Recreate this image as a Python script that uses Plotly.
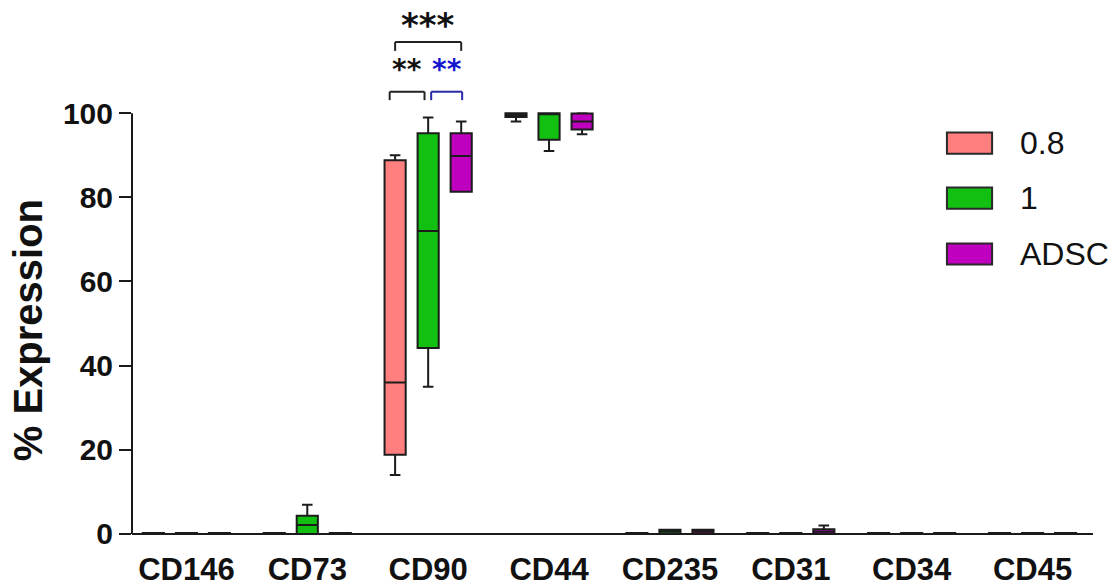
import plotly.graph_objects as go

categories = ["CD146", "CD73", "CD90", "CD44", "CD235", "CD31", "CD34", "CD45"]
groups = ["0.8", "1", "ADSC"]
colors = ["#FF7F7F", "#12C012", "#BF00BF"]

# five-number summaries per group (min, q1, median, q3, max)
g08_min = [0, 0, 14.0, 98.0, 0, 0, 0, 0]
g08_q1 = [0, 0, 18.8, 99.1, 0, 0, 0, 0]
g08_med = [0.1, 0.1, 36.0, 99.5, 0.1, 0.1, 0.1, 0.1]
g08_q3 = [0.2, 0.2, 88.8, 100.0, 0.2, 0.2, 0.2, 0.2]
g08_max = [0.2, 0.2, 90.0, 100.0, 0.2, 0.2, 0.2, 0.2]

g1_min = [0, 0, 35.0, 91.0, 0, 0, 0, 0]
g1_q1 = [0, 0, 44.2, 93.7, 0, 0, 0, 0]
g1_med = [0.1, 2.1, 72.0, 99.8, 0.5, 0.1, 0.1, 0.1]
g1_q3 = [0.2, 4.3, 95.2, 100.0, 1.0, 0.2, 0.2, 0.2]
g1_max = [0.2, 6.9, 99.0, 100.0, 1.0, 0.2, 0.2, 0.2]

adsc_min = [0, 0, 81.3, 95.0, 0, 0, 0, 0]
adsc_q1 = [0, 0, 81.3, 96.1, 0, 0, 0, 0]
adsc_med = [0.1, 0.1, 89.8, 98.0, 0.5, 0.5, 0.1, 0.1]
adsc_q3 = [0.2, 0.2, 95.2, 99.9, 1.0, 1.1, 0.2, 0.2]
adsc_max = [0.2, 0.2, 98.0, 100.0, 1.0, 2.0, 0.2, 0.2]

y_ticks = [0, 20, 40, 60, 80, 100]

stats = [
    (g08_min, g08_q1, g08_med, g08_q3, g08_max),
    (g1_min, g1_q1, g1_med, g1_q3, g1_max),
    (adsc_min, adsc_q1, adsc_med, adsc_q3, adsc_max),
]

positions = list(range(len(categories)))
BOXGAP = 0.18
BOXGROUPGAP = 0.36
slot = (1 - BOXGAP) / len(groups)

fig = go.Figure()
for name, col, (mn, q1, md, q3, mx) in zip(groups, colors, stats):
    fig.add_trace(go.Box(
        name=name, x=positions, lowerfence=mn, q1=q1, median=md, q3=q3, upperfence=mx,
        fillcolor=col, line=dict(color="#1c1c1c", width=2), whiskerwidth=0.5,
        boxpoints=False, showlegend=False, hoverinfo="skip"))

FONT = "Liberation Sans, Arial, sans-serif"
STARFONT = "DejaVu Sans, sans-serif"
shapes = []
annotations = []

# axis lines
shapes.append(dict(type="line", xref="paper", yref="y", x0=0, x1=1, y0=0, y1=0,
                   line=dict(color="#1a1a1a", width=2)))
shapes.append(dict(type="line", xref="paper", yref="y", x0=0, x1=0, y0=0, y1=100,
                   line=dict(color="#1a1a1a", width=2)))

# significance brackets at CD90
ci = categories.index("CD90")
p0, p1, p2 = ci - slot, ci, ci + slot


def bracket(xa, xb, ylow, ytop, color):
    for (a, b, c, d) in [(xa, ylow, xa, ytop), (xa, ytop, xb, ytop), (xb, ytop, xb, ylow)]:
        shapes.append(dict(type="line", xref="x", yref="y", x0=a, y0=b, x1=c, y1=d,
                           line=dict(color=color, width=2)))


bracket(p0 - 0.045, p1 - 0.03, 103.1, 105.1, "#222222")
bracket(p1 + 0.025, p2 + 0.008, 103.1, 105.1, "#2a2aa8")
bracket(p0, p2, 114.8, 116.9, "#222222")

annotations.append(dict(x=(p0 + p1) / 2 - 0.035, y=110.4, xref="x", yref="y", text="<b>**</b>",
                        showarrow=False, yanchor="middle",
                        font=dict(family=STARFONT, size=28, color="#111111")))
annotations.append(dict(x=(p1 + p2) / 2 + 0.02, y=110.4, xref="x", yref="y", text="<b>**</b>",
                        showarrow=False, yanchor="middle",
                        font=dict(family=STARFONT, size=28, color="#1515d0")))
annotations.append(dict(x=p1, y=121.0, xref="x", yref="y", text="<b>***</b>",
                        showarrow=False, yanchor="middle",
                        font=dict(family=STARFONT, size=34, color="#111111")))

# y axis title
annotations.append(dict(x=-0.108, y=0.39, xref="paper", yref="paper", text="<b>% Expression</b>",
                        textangle=-90, showarrow=False, xanchor="center", yanchor="middle",
                        font=dict(family=FONT, size=40, color="#111111")))

# manual legend
leg_y = [0.744, 0.640, 0.534]
for name, col, yc in zip(groups, colors, leg_y):
    shapes.append(dict(type="rect", xref="paper", yref="paper", x0=0.848, x1=0.895,
                       y0=yc - 0.02, y1=yc + 0.02, fillcolor=col,
                       line=dict(color="#2a2a2a", width=2)))
    annotations.append(dict(x=0.922, y=yc, xref="paper", yref="paper", text=name,
                            showarrow=False, xanchor="left", yanchor="middle",
                            font=dict(family=FONT, size=32, color="#111111")))

fig.update_layout(
    width=1116, height=587,
    margin=dict(l=132, r=23, t=8, b=51, autoexpand=False),
    paper_bgcolor="white", plot_bgcolor="white",
    boxmode="group", boxgap=BOXGAP, boxgroupgap=BOXGROUPGAP,
    showlegend=False,
    shapes=shapes, annotations=annotations,
    xaxis=dict(range=[-0.45, 7.5], tickvals=positions, ticktext=categories,
               showgrid=False, zeroline=False, showline=False, ticks="",
               ticklabelstandoff=12, automargin=False,
               tickfont=dict(family=FONT, size=31, color="#111111", weight="bold")),
    yaxis=dict(range=[-0.5, 125], tickvals=y_ticks, showgrid=False, zeroline=False,
               showline=False, ticks="outside", ticklen=12, tickwidth=2, tickcolor="#1a1a1a",
               automargin=False,
               tickfont=dict(family=FONT, size=30, color="#111111", weight="bold")),
)

fig.write_html("out.html", config={"displayModeBar": False},
               post_script="document.body.style.margin='0';document.body.style.overflow='hidden';")
